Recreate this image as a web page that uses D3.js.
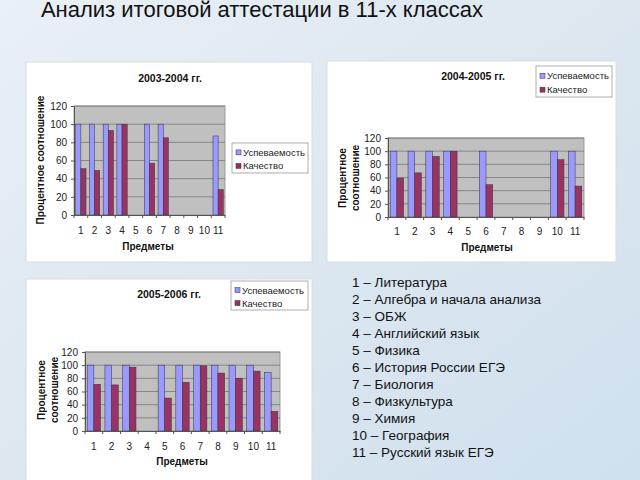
<!DOCTYPE html>
<html>
<head>
<meta charset="utf-8">
<script src="https://cdn.jsdelivr.net/npm/d3@7"></script>
<style>
  body { margin: 0; padding: 0; }
  svg { display: block; font-family: "Liberation Sans", Arial, sans-serif; }
</style>
</head>
<body>
<div id="slide"></div>
<script>
const width = 640;
const height = 480;

const subjects = ["1", "2", "3", "4", "5", "6", "7", "8", "9", "10", "11"];
const seriesNames = ["Успеваемость", "Качество"];
const yTicks = [0, 20, 40, 60, 80, 100, 120];

// null = no data for that subject in the year
const perf2003 = [100, 100, 100, 100, null, 100, 100, null, null, null, 87];
const qual2003 = [51, 49, 93, 100, null, 57, 85, null, null, null, 28];
const perf2004 = [100, 100, 100, 100, null, 100, null, null, null, 100, 100];
const qual2004 = [59, 67, 92, 100, null, 49, null, null, null, 87, 47];
const perf2005 = [100, 100, 100, null, 100, 100, 100, 100, 100, 100, 89];
const qual2005 = [71, 70, 97, null, 50, 74, 99, 88, 80, 91, 30];

const subjectNames = [
    "1 – Литература",
    "2 – Алгебра и начала анализа",
    "3 – ОБЖ",
    "4 – Английский язык",
    "5 – Физика",
    "6 – История России ЕГЭ",
    "7 – Биология",
    "8 – Физкультура",
    "9 – Химия",
    "10 – География",
    "11 – Русский язык ЕГЭ"
];

const colors = ["#9999ff", "#993366"];

const svg = d3.select("#slide")
    .append("svg")
    .attr("width", width)
    .attr("height", height);

// slide background
const defs = svg.append("defs");
const bg = defs.append("linearGradient").attr("id", "bg")
    .attr("x1", 0).attr("y1", 0).attr("x2", 1).attr("y2", 1);
bg.append("stop").attr("offset", "0%").attr("stop-color", "#e9f0f6");
bg.append("stop").attr("offset", "50%").attr("stop-color", "#dce7f0");
bg.append("stop").attr("offset", "100%").attr("stop-color", "#d0e0ee");
svg.append("rect").attr("width", width).attr("height", height).attr("fill", "url(#bg)");

svg.append("text")
    .attr("x", 262)
    .attr("y", 17)
    .attr("text-anchor", "middle")
    .attr("font-size", "22px")
    .attr("fill", "#111")
    .text("Анализ итоговой аттестации в 11-х классах");

function drawChart(cfg) {
    const g = svg.append("g");

    g.append("rect")
        .attr("x", cfg.box[0]).attr("y", cfg.box[1])
        .attr("width", cfg.box[2]).attr("height", cfg.box[3])
        .attr("fill", "#fff")
        .attr("stroke", "#d8dde2");

    const x = d3.scaleBand().domain(subjects).range([cfg.plot[0], cfg.plot[1]]);
    const y = d3.scaleLinear().domain([0, 120]).range([cfg.plot[3], cfg.plot[2]]);
    const inner = d3.scaleBand().domain(seriesNames)
        .range([0, x.bandwidth()]).paddingOuter(0.33);

    // plot area
    g.append("rect")
        .attr("x", cfg.plot[0]).attr("y", cfg.plot[2])
        .attr("width", cfg.plot[1] - cfg.plot[0])
        .attr("height", cfg.plot[3] - cfg.plot[2])
        .attr("fill", "#c0c0c0")
        .attr("stroke", "#8c8c8c")
        .attr("stroke-width", 0.8);

    g.selectAll(".grid")
        .data(yTicks.filter(d => d > 0))
        .enter().append("line")
        .attr("x1", cfg.plot[0]).attr("x2", cfg.plot[1])
        .attr("y1", d => y(d)).attr("y2", d => y(d))
        .attr("stroke", "#6f6f6f")
        .attr("stroke-width", 0.7);

    const rows = subjects.map((s, i) => ({ s, vals: [cfg.perf[i], cfg.qual[i]] }));
    rows.forEach(r => {
        r.vals.forEach((v, k) => {
            if (v == null) return;
            g.append("rect")
                .attr("x", x(r.s) + inner(seriesNames[k]))
                .attr("y", y(v))
                .attr("width", inner.bandwidth())
                .attr("height", y(0) - y(v))
                .attr("fill", colors[k])
                .attr("stroke", "#333")
                .attr("stroke-width", 0.5);
        });
    });

    // axes
    const yAxis = d3.axisLeft(y).tickValues(yTicks).tickSize(3).tickPadding(4);
    g.append("g")
        .attr("transform", `translate(${cfg.plot[0]},0)`)
        .call(yAxis)
        .call(a => a.select(".domain").attr("stroke", "#555"))
        .call(a => a.selectAll("line").attr("stroke", "#555"))
        .call(a => a.selectAll("text").attr("font-size", "10px").attr("fill", "#222")
            .attr("font-family", "Liberation Sans, Arial, sans-serif"));

    const xAxis = d3.axisBottom(x).tickSize(0).tickPadding(cfg.tickPad);
    g.append("g")
        .attr("transform", `translate(0,${cfg.plot[3]})`)
        .call(xAxis)
        .call(a => a.select(".domain").attr("stroke", "#555"))
        .call(a => a.selectAll("text").attr("font-size", "10px").attr("fill", "#222")
            .attr("font-family", "Liberation Sans, Arial, sans-serif"));

    // category separators below the axis
    g.selectAll(".xt")
        .data(subjects.concat(["end"]))
        .enter().append("line")
        .attr("x1", (d, i) => cfg.plot[0] + i * x.step())
        .attr("x2", (d, i) => cfg.plot[0] + i * x.step())
        .attr("y1", cfg.plot[3]).attr("y2", cfg.plot[3] + 3)
        .attr("stroke", "#555");

    g.append("text")
        .attr("x", cfg.titlePos[0]).attr("y", cfg.titlePos[1])
        .attr("text-anchor", "middle")
        .attr("font-size", "10.5px").attr("font-weight", "bold")
        .attr("fill", "#111")
        .text(cfg.title);

    g.append("text")
        .attr("x", cfg.xTitle[0]).attr("y", cfg.xTitle[1])
        .attr("text-anchor", "middle")
        .attr("font-size", "10px").attr("font-weight", "bold")
        .attr("fill", "#111")
        .text("Предметы");

    const yt = g.append("text")
        .attr("transform", `translate(${cfg.yTitle[0]},${cfg.yTitle[1]}) rotate(-90)`)
        .attr("text-anchor", "middle")
        .attr("font-size", "10px").attr("font-weight", "bold")
        .attr("fill", "#111");
    cfg.yLines.forEach((t, i) => {
        yt.append("tspan").attr("x", 0).attr("dy", i === 0 ? 0 : 12.5).text(t);
    });

    // legend
    const lg = g.append("g").attr("transform", `translate(${cfg.legend[0]},${cfg.legend[1]})`);
    lg.append("rect")
        .attr("width", cfg.legend[2]).attr("height", cfg.legend[3])
        .attr("fill", "#fff").attr("stroke", "#9a9a9a").attr("stroke-width", 0.8);
    seriesNames.forEach((n, k) => {
        const yy = cfg.legend[3] * (k === 0 ? 0.33 : 0.78);
        lg.append("rect")
            .attr("x", 4).attr("y", yy - 3)
            .attr("width", 5).attr("height", 5)
            .attr("fill", colors[k]).attr("stroke", "#333").attr("stroke-width", 0.5);
        lg.append("text")
            .attr("x", 11).attr("y", yy + 3)
            .attr("font-size", "9.5px").attr("fill", "#222")
            .text(n);
    });
}

drawChart({
    title: "2003-2004 гг.", perf: perf2003, qual: qual2003,
    box: [26, 62, 286, 200],
    plot: [74, 225, 106, 215],
    titlePos: [170, 82],
    xTitle: [148, 250],
    yTitle: [44, 160], yLines: ["Процентное соотношение"],
    legend: [232, 143, 76, 30],
    tickPad: 12
});

drawChart({
    title: "2004-2005 гг.", perf: perf2004, qual: qual2004,
    box: [327, 61, 289, 201],
    plot: [388, 584, 138, 217],
    titlePos: [473, 80],
    xTitle: [487, 251],
    yTitle: [346, 178], yLines: ["Процентное", "соотношение"],
    legend: [536, 66, 76, 31],
    tickPad: 11
});

drawChart({
    title: "2005-2006 гг.", perf: perf2005, qual: qual2005,
    box: [26, 279, 286, 205],
    plot: [85, 280, 352, 431],
    titlePos: [169, 298],
    xTitle: [182, 465],
    yTitle: [45, 390], yLines: ["Процентное", "соотношение"],
    legend: [231, 281, 77, 29],
    tickPad: 12
});

svg.append("g")
    .selectAll("text")
    .data(subjectNames)
    .enter().append("text")
    .attr("x", 352)
    .attr("y", (d, i) => 287 + i * 17)
    .attr("font-size", "13.5px")
    .attr("fill", "#111")
    .text(d => d);
</script>
</body>
</html>
